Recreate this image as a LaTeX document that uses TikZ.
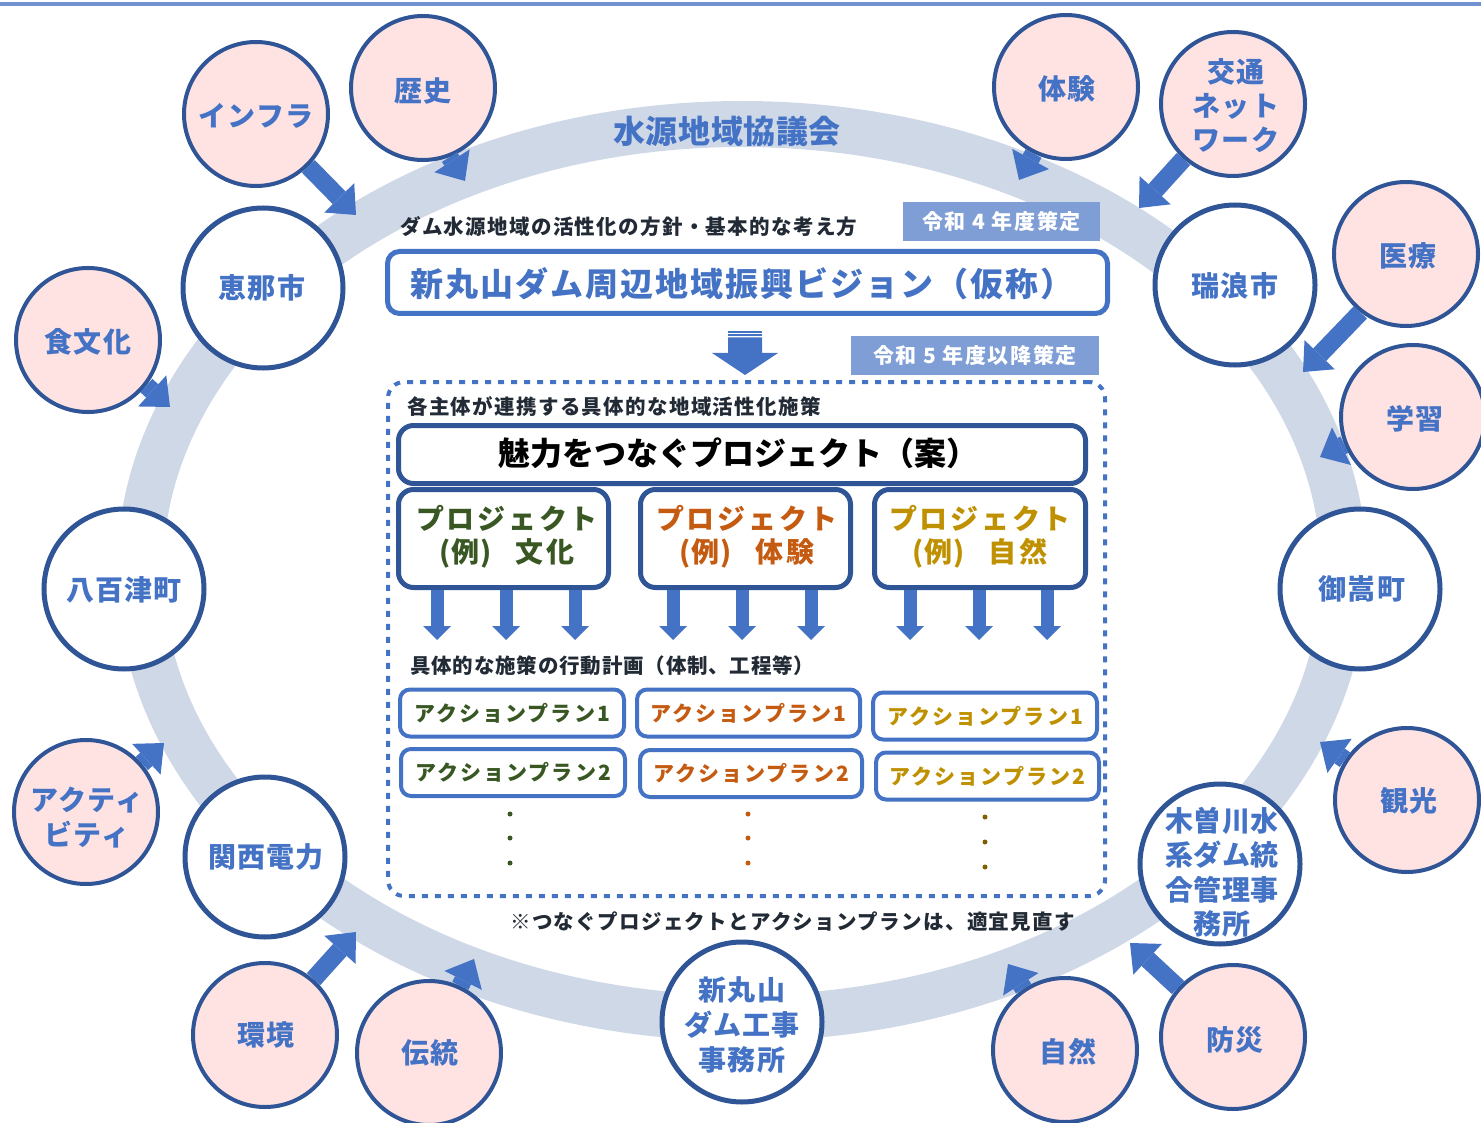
\documentclass[tikz,border=0pt]{standalone}
\usepackage{fontspec}
\setmainfont{Noto Sans CJK JP}
\usetikzlibrary{arrows.meta}
\definecolor{cblue}{HTML}{4472C4}
\definecolor{cdark}{HTML}{2F5597}
\definecolor{cpink}{HTML}{FFE3E3}
\definecolor{cring}{HTML}{CFD8E7}
\definecolor{clabel}{HTML}{7F9ED6}
\definecolor{ctop}{HTML}{7092D0}
\definecolor{ctext}{HTML}{222A35}
\definecolor{cgreen}{HTML}{385723}
\definecolor{corange}{HTML}{C55A11}
\definecolor{cgold}{HTML}{BF9000}
\definecolor{cbrown}{HTML}{7F6000}
\newcommand\myfs[2]{\fontsize{#1}{#2}\selectfont}
\newcommand\myls[1]{\addfontfeature{LetterSpace=#1}}
\tikzset{
  pinkc/.style={circle, draw=cdark, line width=4pt, fill=cpink, minimum size=144pt, inner sep=0pt},
  whitec/.style={circle, draw=cdark, line width=5pt, fill=white, minimum size=160pt, inner sep=0pt},
  lbl/.style={inner sep=0pt, align=center, text=cblue, font=\bfseries\myfs{28}{35}\myls{4}},
  barr/.style={draw=cblue, line width=18pt, -{Triangle[length=24pt,width=42pt,line width=0pt]}},
  sarr/.style={draw=cblue, line width=13pt, -{Triangle[length=14pt,width=28pt,line width=0pt]}},
  tagbox/.style={fill=clabel, text=white, inner sep=0pt, font=\bfseries\myfs{21}{25}\myls{8}},
  smalltxt/.style={inner sep=0pt, anchor=west, text=ctext, font=\bfseries\myfs{20.5}{24}\myls{6.5}},
  projbox/.style={draw=cdark, line width=5pt, fill=white, rounded corners=15pt, inner sep=0pt},
  abox/.style={draw=cblue, line width=4pt, fill=white, rounded corners=10pt, inner sep=0pt, minimum height=47pt},
  ptext/.style={inner sep=0pt, align=center, font=\bfseries\myfs{28}{33}\myls{10}},
  atext/.style={inner sep=0pt, font=\bfseries\myfs{21}{25}\myls{10}},
  dotmark/.style={circle, inner sep=0pt, minimum size=5pt},
}
\begin{document}
\begin{tikzpicture}[x=1pt,y=-1pt]
\useasboundingbox (0,0) rectangle (1481,1123);
\clip (0,0) rectangle (1481,1123);
% top line
\fill[ctop] (0,2) rectangle (1481,6);
% ring
\draw[cring, line width=46pt] (742,571) ellipse [x radius=602, y radius=447];
\node[font=\bfseries\myfs{32}{38}\myls{2}, text=cblue, inner sep=0pt] (council) at (727,131) {水源地域協議会};

% white circles
\node[whitec] (ena) at (263,288) {};
\node[whitec] (mizu) at (1235,285) {};
\node[whitec] (yao) at (124,589) {};
\node[whitec] (mita) at (1360,589) {};
\node[whitec] (kepco) at (265,857) {};
\node[whitec] (kiso) at (1220,864) {};
\node[whitec] (shinmaru) at (742,1022) {};
% pink circles
\node[pinkc] (infra) at (256,114) {};
\node[pinkc] (reki) at (423,88) {};
\node[pinkc] (shoku) at (88,340) {};
\node[pinkc] (taiken) at (1066,87) {};
\node[pinkc] (kotsu) at (1233,104) {};
\node[pinkc] (iryo) at (1406,254) {};
\node[pinkc] (gaku) at (1413,417) {};
\node[pinkc] (kanko) at (1407,800) {};
\node[pinkc] (acti) at (86,812) {};
\node[pinkc] (kankyo) at (265,1035) {};
\node[pinkc] (dento) at (429,1053) {};
\node[pinkc] (shizen) at (1065,1050) {};
\node[pinkc] (bosai) at (1233,1037) {};

% labels
\node[lbl] at (262,288) {恵那市};
\node[lbl] at (1235,286) {瑞浪市};
\node[lbl] at (124,590) {八百津町};
\node[lbl] at (1362,589) {御嵩町};
\node[lbl] at (266,857) {関西電力};
\node[lbl, font=\bfseries\myfs{28}{34.5}\myls{1}] at (1222,872) {木曽川水\\系ダム統\\合管理事\\務所};
\node[lbl] at (742,1025) {新丸山\\ダム工事\\事務所};
\node[lbl] at (256,116) {インフラ};
\node[lbl] at (423,91) {歴史};
\node[lbl] at (88,342) {食文化};
\node[lbl] at (1067,89) {体験};
\node[lbl, font=\bfseries\myfs{28}{34}\myls{4}] at (1236,106) {交通\\ネット\\ワーク};
\node[lbl] at (1408,256) {医療};
\node[lbl] at (1415,419) {学習};
\node[lbl] at (1409,801) {観光};
\node[lbl] at (87,818) {アクティ\\ビティ};
\node[lbl] at (266,1035) {環境};
\node[lbl] at (430,1053) {伝統};
\node[lbl] at (1068,1052) {自然};
\node[lbl] at (1235,1040) {防災};

% block arrows from circles to the ring
\coordinate (tinfra) at (356,215);
\coordinate (treki) at (465,181);
\coordinate (tshoku) at (170,407);
\coordinate (ttaiken) at (1019,180);
\coordinate (tkotsu) at (1139,208);
\coordinate (tiryo) at (1303,372);
\coordinate (tgaku) at (1320,457);
\coordinate (tkanko) at (1320,742);
\coordinate (tbosai) at (1130,943);
\coordinate (tshizen) at (1008,964);
\coordinate (tdento) at (474,959);
\coordinate (tkankyo) at (356,932);
\coordinate (tacti) at (164,743);
\draw[barr] (infra.-45) -- (tinfra);
\draw[barr] (reki.-69) -- (treki);
\draw[barr] (shoku.-38) -- (tshoku);
\draw[barr] (taiken.-116) -- (ttaiken);
\draw[barr] (kotsu.-132) -- (tkotsu);
\draw[barr] (iryo.-128) -- (tiryo);
\draw[barr] (gaku.-158) -- (tgaku);
\draw[barr] (kanko.147) -- (tkanko);
\draw[barr] (bosai.138) -- (tbosai);
\draw[barr] (shizen.124) -- (tshizen);
\draw[barr] (dento.65) -- (tdento);
\draw[barr] (kankyo.49) -- (tkankyo);
\draw[barr] (acti.41) -- (tacti);

% vision part
\node[smalltxt] (policy) at (400,227) {ダム水源地域の活性化の方針・基本的な考え方};
\node[tagbox, minimum width=197pt, minimum height=39pt] (tag4) at (1001.5,221.5) {令和 4 年度策定};
\node[draw=cblue, line width=5pt, rounded corners=12pt, fill=white, minimum width=720pt, minimum height=62pt, inner sep=0pt] (vision) at (747.5,282.5) {};
\node[inner sep=0pt, text=cblue, font=\bfseries\myfs{33}{38}\myls{6}] at (742,284) {新丸山ダム周辺地域振興ビジョン（仮称）};
% big down arrow
\fill[cblue] (728,331) rectangle (762,332.7);
\fill[cblue] (728,334.2) rectangle (762,335.9);
\fill[cblue] (728,337.3) -- (762,337.3) -- (762,353) -- (778,353) -- (745,375) -- (712,353) -- (728,353) -- cycle;
\node[tagbox, minimum width=248pt, minimum height=39pt] (tag5) at (975,355.5) {令和 5 年度以降策定};

% dotted frame
\node[draw=cblue, line width=4pt, dash pattern=on 6pt off 7pt, rounded corners=16pt, minimum width=717pt, minimum height=514pt, inner sep=0pt] (dbox) at (746.5,639) {};
\node[smalltxt] (measures) at (407,407) {各主体が連携する具体的な地域活性化施策};
\node[projbox, minimum width=687pt, minimum height=58pt] (main) at (742,454.5) {};
\node[inner sep=0pt, text=black, font=\bfseries\myfs{32}{38}] at (738,453) {魅力をつなぐプロジェクト（案）};

\node[projbox, minimum width=210pt, minimum height=98pt] (pA) at (503.5,538.5) {};
\node[projbox, minimum width=210pt, minimum height=98pt] (pB) at (745.5,538.5) {};
\node[projbox, minimum width=211pt, minimum height=98pt] (pC) at (980,538.5) {};
\node[ptext, text=cgreen] at (507,537) {プロジェクト\\{\myls{2}(例)}\hspace{24pt}文化};
\node[ptext, text=corange] at (747,537) {プロジェクト\\{\myls{2}(例)}\hspace{24pt}体験};
\node[ptext, text=cgold] at (980,537) {プロジェクト\\{\myls{2}(例)}\hspace{24pt}自然};

% small arrows
\foreach \n/\b/\x in {1/pA/437, 2/pA/506, 3/pA/575, 4/pB/673, 5/pB/742, 6/pB/811, 7/pC/910, 8/pC/979, 9/pC/1047}{
  \coordinate (d\n) at (\x,640);
  \draw[sarr] (\b.south -| d\n) -- (d\n);
}

\node[smalltxt, font=\bfseries\myfs{20.5}{24}\myls{4}] (plan) at (410,666) {具体的な施策の行動計画（体制、工程等）};

\node[abox, minimum width=224pt] (a1) at (512,713) {};
\node[abox, minimum width=223pt] (b1) at (748.5,713) {};
\node[abox, minimum width=224pt] (c1) at (985,716) {};
\node[abox, minimum width=224pt] (a2) at (513,772.5) {};
\node[abox, minimum width=222pt] (b2) at (751,773.5) {};
\node[abox, minimum width=223pt] (c2) at (987.5,776) {};
\node[atext, text=cgreen] at (a1) {アクションプラン1};
\node[atext, text=corange] at (b1) {アクションプラン1};
\node[atext, text=cgold] at (c1) {アクションプラン1};
\node[atext, text=cgreen] at (a2) {アクションプラン2};
\node[atext, text=corange] at (b2) {アクションプラン2};
\node[atext, text=cgold] at (c2) {アクションプラン2};

\foreach \y [count=\i] in {814,838,863}{
  \node[dotmark, fill=cgreen] (ga\i) at (510,\y) {};
  \node[dotmark, fill=corange] (ob\i) at (748,\y) {};
}
\foreach \y [count=\i] in {817,842,867}{
  \node[dotmark, fill=cbrown] (bc\i) at (985,\y) {};
}

\node[smalltxt] (note) at (510,922) {※つなぐプロジェクトとアクションプランは、適宜見直す};
\end{tikzpicture}
\end{document}
